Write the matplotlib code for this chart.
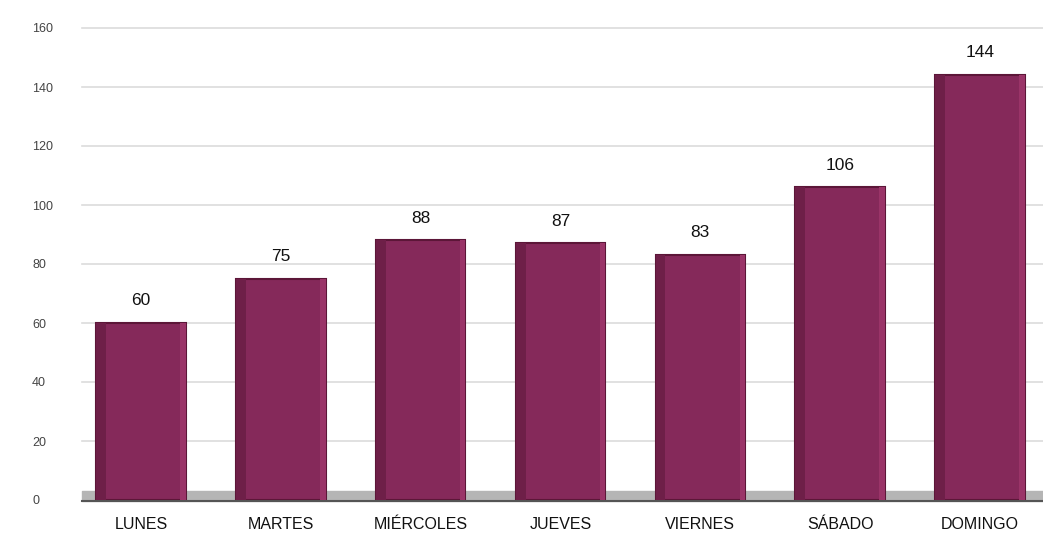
import matplotlib
matplotlib.use("Agg")
import matplotlib.pyplot as plt

categories = ["LUNES", "MARTES", "MIÉRCOLES", "JUEVES", "VIERNES", "SÁBADO", "DOMINGO"]
values = [60, 75, 88, 87, 83, 106, 144]
yticks = [0, 20, 40, 60, 80, 100, 120, 140, 160]

plt.rcParams['font.family'] = ['Liberation Sans', 'DejaVu Sans']

fig = plt.figure(figsize=(10.43, 5.43), dpi=100)
ax = fig.add_axes([71/1043, 43/543, (1043-71)/1043, 472/543])
ax.set_xlim(-0.5, 6.45)
ax.set_ylim(0, 160)

x = list(range(len(categories)))
# gridlines
for t in yticks[1:]:
    ax.plot([-0.42, 6.45], [t, t], color="#dcdcdc", lw=1.2, zorder=0, clip_on=False)
# floor
ax.fill_between([-0.42, 6.45], -0.5, 3.2, color="#b5b5b5", zorder=1, clip_on=False)
ax.plot([-0.42, 6.45], [-0.5, -0.5], color="#555555", lw=1.5, zorder=1, clip_on=False)

w = 0.64
bars = ax.bar(x, values, width=w, color="#85295a", edgecolor="#5c1638", linewidth=1.5, zorder=3)
# 3D side shading
ax.bar([i - w/2 + 0.035 for i in x], values, width=0.07, color="#6e1f48", linewidth=0, zorder=4)
ax.bar([i + w/2 - 0.02 for i in x], values, width=0.04, color="#9a3468", linewidth=0, zorder=4)

for i, v in zip(x, values):
    ax.text(i, v + 5, str(v), ha="center", va="bottom", fontsize=12.5, color="#111111")

ax.set_xticks(x)
ax.set_xticklabels(categories, fontsize=11.5, color="#111111")
ax.set_yticks(yticks)
ax.set_yticklabels([str(t) for t in yticks], fontsize=9, color="#444444")
ax.tick_params(axis="both", length=0)
ax.tick_params(axis="x", pad=12)
ax.tick_params(axis="y", pad=28)
for t in ax.get_yticklabels():
    t.set_horizontalalignment("left")
for s in ax.spines.values():
    s.set_visible(False)

fig.savefig("out.png", dpi=100)
